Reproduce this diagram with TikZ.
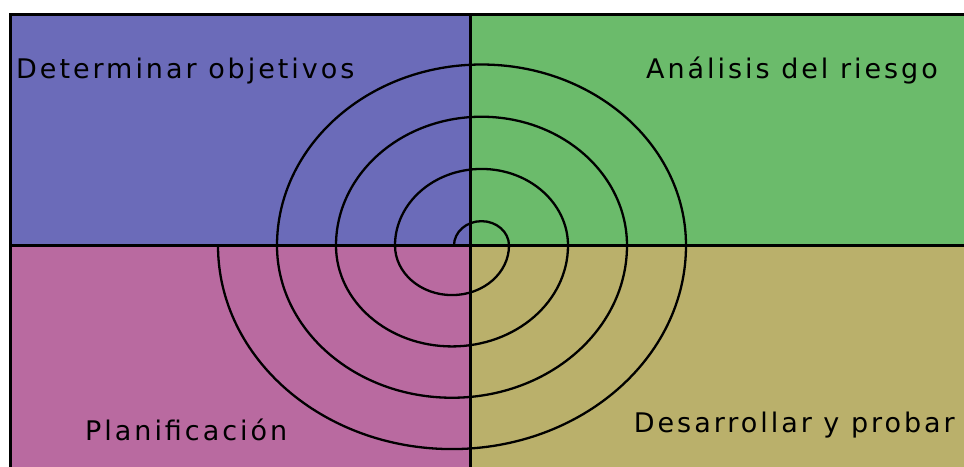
\documentclass[tikz,border=0pt]{standalone}
\usepackage{fontspec}
\setmainfont{DejaVu Sans}
\newfontfamily\quadfont[LetterSpace=11]{DejaVu Sans}
\usetikzlibrary{positioning}

\definecolor{objblue}{RGB}{107,107,185}
\definecolor{riskgreen}{RGB}{107,187,107}
\definecolor{planpink}{RGB}{185,106,160}
\definecolor{devkhaki}{RGB}{186,176,107}

\begin{document}
\begin{tikzpicture}[
x=1pt, y=1pt,
every node/.style={font=\quadfont\fontsize{27}{32}\selectfont, inner sep=0pt},
divider/.style={draw=black, line width=2.2pt},
frame/.style={draw=black, line width=2.8pt},
spiral/.style={draw=black, line width=2.3pt}
]
\useasboundingbox (0,0) rectangle (964,466);
\clip (0,0) rectangle (964,466);

% Quadrants
\fill[objblue] (10.5,220.5) rectangle (470.5,451.5);
\fill[riskgreen] (470.5,220.5) rectangle (980,451.5);
\fill[planpink] (10.5,-10) rectangle (470.5,220.5);
\fill[devkhaki] (470.5,-10) rectangle (980,220.5);

% Spiral
\draw[spiral] (454,220.5)
  foreach \r in {27.5,86.5,145.5,204.5} {
    arc[start angle=180, end angle=0, x radius=\r pt, y radius={0.885*\r pt}]
    arc[start angle=0, end angle=-180, x radius={(\r+29.5)*1pt}, y radius={0.87*(\r+29.5)*1pt}]
  };

% Axes and frame
\draw[divider] (10.5,220.5) -- (980,220.5);
\draw[divider] (470.5,-10) -- (470.5,451.5);
\draw[frame] (10.5,-10) -- (10.5,451.5) -- (980,451.5);

% Labels
\node[anchor=base west] (objetivos) at (16,387) {Determinar objetivos};
\node[anchor=base east] (riesgo) at (938,387) {Análisis del riesgo};
\node[anchor=base west] (planif) at (85,25) {Planificación};
\node[anchor=base east] (desarrollo) at (955,34) {Desarrollar y probar};

\end{tikzpicture}
\end{document}
